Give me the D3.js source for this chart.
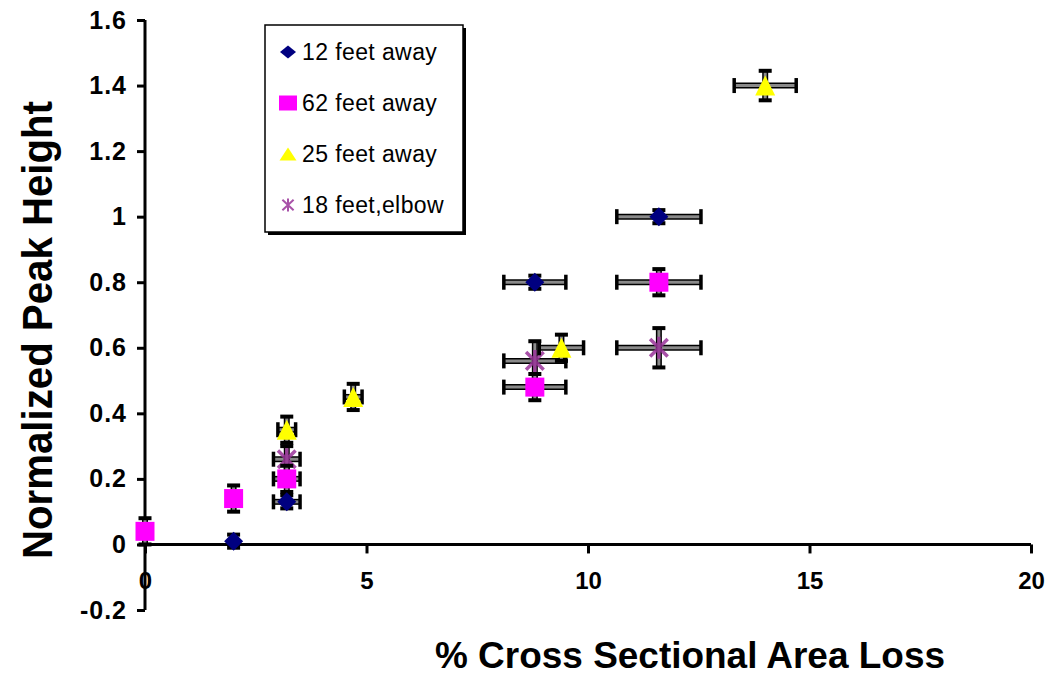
<!DOCTYPE html>
<html>
<head>
<meta charset="utf-8">
<script src="https://cdn.jsdelivr.net/npm/d3@7"></script>
<style>
  html, body { margin: 0; padding: 0; background: #fff; }
  svg { display: block; }
  text { font-family: Arial, "Liberation Sans", sans-serif; }
</style>
</head>
<body>
<svg id="chart" width="1049" height="677"></svg>
<script>
// Series names (legend order)
const seriesNames = ["12 feet away", "62 feet away", "25 feet away", "18 feet,elbow"];

// 12 feet away
const s12X = [2, 3.2, 8.8, 11.6];
const s12Y = [0.01, 0.13, 0.8, 1.0];
const s12XErr = [0, 0.3, 0.7, 0.95];
const s12YErr = [0.02, 0.02, 0.02, 0.02];

// 62 feet away
const s62X = [0, 2, 3.2, 8.8, 11.6];
const s62Y = [0.04, 0.14, 0.2, 0.48, 0.8];
const s62XErr = [0, 0, 0.3, 0.7, 0.95];
const s62YErr = [0.04, 0.04, 0.04, 0.04, 0.04];

// 25 feet away
const s25X = [3.2, 4.7, 9.4, 14];
const s25Y = [0.35, 0.45, 0.6, 1.4];
const s25XErr = [0.2, 0.2, 0.5, 0.7];
const s25YErr = [0.04, 0.04, 0.04, 0.045];

// 18 feet, elbow
const s18X = [3.2, 8.8, 11.6];
const s18Y = [0.26, 0.56, 0.6];
const s18XErr = [0.3, 0.7, 0.95];
const s18YErr = [0.04, 0.06, 0.06];

// Axis ticks
const xTicks = [0, 5, 10, 15, 20];
const yTicks = [-0.2, 0, 0.2, 0.4, 0.6, 0.8, 1, 1.2, 1.4, 1.6];

const xTitle = "% Cross Sectional Area Loss";
const yTitle = "Normalized Peak Height";

const svg = d3.select("#chart");

const x = d3.scaleLinear().domain([0, 20]).range([145, 1031]);
const y = d3.scaleLinear().domain([-0.2, 1.6]).range([610, 20]);

// Marker shapes (rx = half width, ry = half height)
const shapes = {
  diamond: (rx, ry) => `M0,${-ry}L${rx},0L0,${ry}L${-rx},0Z`,
  square: (rx, ry) => `M${-rx},${-ry}H${rx}V${ry}H${-rx}Z`,
  triangle: (rx, ry) => `M0,${-ry}L${rx},${ry}L${-rx},${ry}Z`,
  star: (rx, ry) => {
    const dx = rx * 0.8, dy = ry * 0.8;
    return `M${-dx},${-dy}L${dx},${dy}M${dx},${-dy}L${-dx},${dy}M0,${-ry}L0,${ry}`;
  }
};

const series = [
  { name: seriesNames[3], xs: s18X, ys: s18Y, xe: s18XErr, ye: s18YErr, shape: "star", color: "#993399", r: 11 },
  { name: seriesNames[2], xs: s25X, ys: s25Y, xe: s25XErr, ye: s25YErr, shape: "triangle", color: "#FFFF00", r: 10 },
  { name: seriesNames[1], xs: s62X, ys: s62Y, xe: s62XErr, ye: s62YErr, shape: "square", color: "#FF00FF", r: 9.5 },
  { name: seriesNames[0], xs: s12X, ys: s12Y, xe: s12XErr, ye: s12YErr, shape: "diamond", color: "#000080", r: 9.5 }
];

const fmtTick = d => String(+(+d).toFixed(1)); // plain hyphen for negatives

// Axes
const axisG = svg.append("g");
const xAxis = d3.axisBottom(x).tickValues(xTicks).tickSize(9).tickFormat(fmtTick);
const xg = axisG.append("g").attr("transform", `translate(0,${y(0)})`).call(xAxis);
xg.select(".domain").attr("d", `M${x(0)},0H${x(20)}`);
xg.selectAll("line, path").attr("stroke", "#000").attr("stroke-width", 3);
xg.selectAll("text").attr("font-size", 24).attr("font-weight", "bold").attr("fill", "#000")
  .attr("y", 28).attr("dy", "0.71em");

const yAxis = d3.axisLeft(y).tickValues(yTicks).tickSize(8).tickFormat(fmtTick);
const yg = axisG.append("g").attr("transform", `translate(${x(0)},0)`).call(yAxis);
yg.select(".domain").attr("d", `M0,${y(1.6)}V${y(-0.2)}`);
yg.selectAll("line, path").attr("stroke", "#000").attr("stroke-width", 3);
yg.selectAll("text").attr("font-size", 25).attr("font-weight", "bold").attr("fill", "#000")
  .attr("x", -18).attr("letter-spacing", 1);

// Axis titles
svg.append("text")
  .attr("x", 690).attr("y", 668)
  .attr("text-anchor", "middle")
  .attr("font-size", 36).attr("font-weight", "bold")
  .attr("textLength", 510).attr("lengthAdjust", "spacingAndGlyphs")
  .text(xTitle);

svg.append("text")
  .attr("transform", `translate(52,330) rotate(-90)`)
  .attr("text-anchor", "middle")
  .attr("font-size", 42).attr("font-weight", "bold")
  .attr("textLength", 458).attr("lengthAdjust", "spacingAndGlyphs")
  .text(yTitle);

// Error bars and markers
const plot = svg.append("g");

function drawBar(g, x1, y1, x2, y2) {
  g.append("line").attr("x1", x1).attr("y1", y1).attr("x2", x2).attr("y2", y2)
    .attr("stroke", "#000").attr("stroke-width", 6);
  g.append("line").attr("x1", x1).attr("y1", y1).attr("x2", x2).attr("y2", y2)
    .attr("stroke", "#8a8a8a").attr("stroke-width", 3);
}

series.forEach(s => {
  const g = plot.append("g");
  s.xs.forEach((xv, i) => {
    const cx = x(xv), cy = y(s.ys[i]);
    if (s.xe[i] > 0) {
      const xl = x(xv - s.xe[i]), xr = x(xv + s.xe[i]);
      drawBar(g, xl, cy, xr, cy);
      [xl, xr].forEach(px => g.append("rect")
        .attr("x", px - 1.75).attr("y", cy - 7.5).attr("width", 3.5).attr("height", 15).attr("fill", "#000"));
    }
    if (s.ye[i] > 0) {
      const yt = y(s.ys[i] + s.ye[i]), yb = y(s.ys[i] - s.ye[i]);
      drawBar(g, cx, yt, cx, yb);
      [yt, yb].forEach(py => g.append("rect")
        .attr("x", cx - 6.5).attr("y", py - 2).attr("width", 13).attr("height", 4).attr("fill", "#000"));
    }
  });
  s.xs.forEach((xv, i) => {
    const p = g.append("path")
      .attr("d", shapes[s.shape](s.r, s.r))
      .attr("transform", `translate(${x(xv)},${y(s.ys[i])})`);
    if (s.shape === "star") {
      p.attr("fill", "none").attr("stroke", s.color).attr("stroke-width", 3.5).attr("stroke-opacity", 0.85);
    } else {
      p.attr("fill", s.color);
    }
  });
});

// Legend
const legend = svg.append("g");
legend.append("rect").attr("x", 268).attr("y", 28).attr("width", 198).attr("height", 207).attr("fill", "#000");
legend.append("rect").attr("x", 265).attr("y", 25).attr("width", 198).attr("height", 207)
  .attr("fill", "#fff").attr("stroke", "#000").attr("stroke-width", 1.5);

const legendOrder = [3, 2, 1, 0]; // series indices in legend order (12, 62, 25, 18)
const legendSize = { diamond: [8, 6.5], square: [9, 7.5], triangle: [8.5, 6.5], star: [7, 6.5] };
const rowY = [52, 103, 154, 205];
legendOrder.forEach((si, k) => {
  const s = series[si];
  const [rx, ry] = legendSize[s.shape];
  const p = legend.append("path")
    .attr("d", shapes[s.shape](rx, ry))
    .attr("transform", `translate(288,${rowY[k]})`);
  if (s.shape === "star") {
    p.attr("fill", "none").attr("stroke", s.color).attr("stroke-width", 2).attr("stroke-opacity", 0.85);
  } else {
    p.attr("fill", s.color);
  }
  legend.append("text")
    .attr("x", 302).attr("y", rowY[k]).attr("dy", "0.36em")
    .attr("font-size", 23).attr("letter-spacing", 0.4)
    .text(s.name);
});
</script>
</body>
</html>
